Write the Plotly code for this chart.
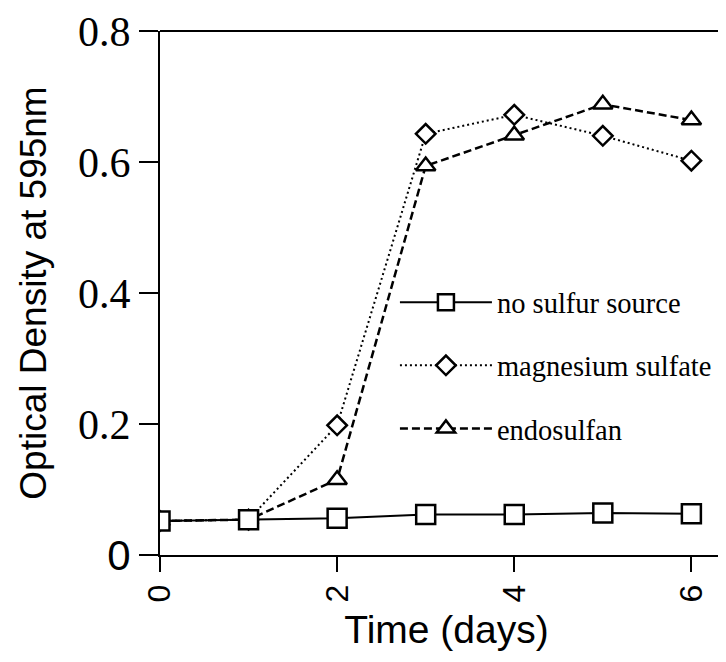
import plotly.graph_objects as go

days = [0, 1, 2, 3, 4, 5, 6]
no_sulfur = [0.052, 0.054, 0.056, 0.062, 0.062, 0.064, 0.063]
mg_sulfate = [0.052, 0.054, 0.198, 0.643, 0.672, 0.640, 0.602]
endosulfan = [0.052, 0.054, 0.115, 0.594, 0.641, 0.688, 0.664]

series_names = ["no sulfur source", "magnesium sulfate", "endosulfan"]
x_ticks = [0, 2, 4, 6]
y_ticks = [0, 0.2, 0.4, 0.6, 0.8]
y_ticktext = ['<span style="font-family:Arial">0</span>', "0.2", "0.4", "0.6", "0.8"]

fig = go.Figure()

fig.add_trace(go.Scatter(
    x=days, y=endosulfan, name=series_names[2], mode="lines+markers",
    line=dict(color="black", width=2.5, dash="8px,4px"),
    marker=dict(symbol="triangle-up", size=17, color="white",
                line=dict(color="black", width=2.5)),
    legendgroup="c", legendrank=3,
))
fig.add_trace(go.Scatter(
    x=days, y=mg_sulfate, name=series_names[1], mode="lines+markers",
    line=dict(color="black", width=2, dash="2px,3px"),
    marker=dict(symbol="diamond", size=15, color="white",
                line=dict(color="black", width=2.5)),
    legendgroup="b", legendrank=2,
))
fig.add_trace(go.Scatter(
    x=days, y=no_sulfur, name=series_names[0], mode="lines+markers",
    line=dict(color="black", width=2),
    marker=dict(symbol="square", size=19, color="white",
                line=dict(color="black", width=2.5)),
    legendgroup="a", legendrank=1,
))

fig.update_layout(
    width=726, height=662,
    margin=dict(l=152, r=1, t=23, b=115, autoexpand=False),
    paper_bgcolor="white", plot_bgcolor="white",
    showlegend=True,
    legend=dict(
        x=0.41, y=0.53, xanchor="left", yanchor="top",
        font=dict(family="Liberation Serif", size=28.5, color="black"),
        bgcolor="rgba(0,0,0,0)", borderwidth=0,
        itemwidth=92, tracegroupgap=23, traceorder="grouped",
    ),
    xaxis=dict(
        range=[0, 6.47], tickvals=x_ticks, ticktext=[str(t) for t in x_ticks],
        tickangle=-90, ticks="outside", ticklen=15, tickwidth=2, tickcolor="black",
        showline=True, linecolor="black", linewidth=2, mirror=False,
        showgrid=False, zeroline=False, automargin=False,
        tickfont=dict(family="Arial", size=32, color="black"),
        title=dict(text="Time (days)", font=dict(family="Arial", size=39, color="black"),
                   standoff=14),
    ),
    yaxis=dict(
        range=[0, 0.8], tickvals=y_ticks, ticktext=y_ticktext,
        ticks="outside", ticklen=19, tickwidth=2, tickcolor="black",
        showline=True, linecolor="black", linewidth=2,
        showgrid=False, zeroline=False, automargin=False,
        tickfont=dict(family="Liberation Serif", size=42, color="black"),
        title=dict(text="Optical Density at 595nm",
                   font=dict(family="Arial", size=37, color="black"), standoff=20),
    ),
    shapes=[
        dict(type="line", xref="paper", yref="paper", x0=0, x1=1, y0=1, y1=1,
             line=dict(color="black", width=2)),
        dict(type="line", xref="paper", yref="paper", x0=1, x1=1, y0=0, y1=0.74,
             line=dict(color="black", width=2)),
    ],
)

fig.write_html("out.html")
